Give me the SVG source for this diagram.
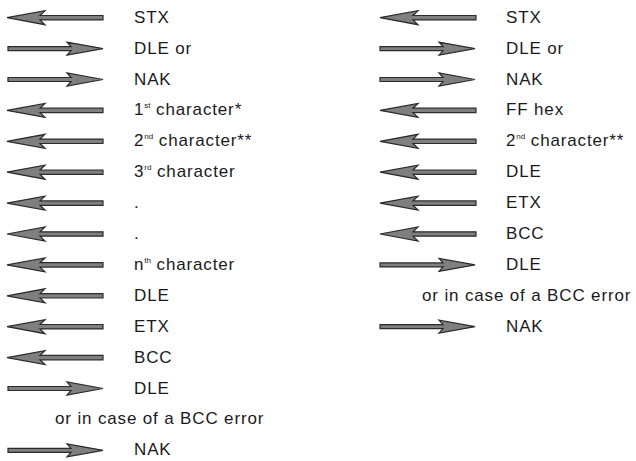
<svg xmlns="http://www.w3.org/2000/svg" xmlns:xlink="http://www.w3.org/1999/xlink" width="636" height="461" viewBox="0 0 636 461">
<style>
text{font-family:"Liberation Sans",Arial,sans-serif;font-size:17px;fill:#1a1a1a;letter-spacing:0.85px}
.sup{font-size:8px;letter-spacing:0}
.arr{fill:#7f7f7f;stroke:#2b2b2b;stroke-width:1.2;stroke-linejoin:miter}
</style>
<defs>
<path id="al" class="arr" d="M0,0 L38,-7 L33,-2.2 L96,-2.2 L96,2.2 L33,2.2 L38,7 Z"/>
<path id="ar" class="arr" d="M0,0 L-36,-6.5 L-32,-2 L-95,-2 L-95,2 L-32,2 L-36,6.5 Z"/>
</defs>
<rect width="636" height="461" fill="#fff"/>
<g id="connectors">
<use xlink:href="#al" x="7" y="17.7"/>
<use xlink:href="#ar" x="103" y="48.6"/>
<use xlink:href="#ar" x="103" y="79.5"/>
<use xlink:href="#al" x="7" y="110.4"/>
<use xlink:href="#al" x="7" y="141.3"/>
<use xlink:href="#al" x="7" y="172.2"/>
<use xlink:href="#al" x="7" y="203.1"/>
<use xlink:href="#al" x="7" y="234"/>
<use xlink:href="#al" x="7" y="264.9"/>
<use xlink:href="#al" x="7" y="295.8"/>
<use xlink:href="#al" x="7" y="326.7"/>
<use xlink:href="#al" x="7" y="357.6"/>
<use xlink:href="#ar" x="103" y="388.5"/>
<use xlink:href="#ar" x="103" y="450.3"/>
<use xlink:href="#al" x="380" y="17.7"/>
<use xlink:href="#ar" x="475" y="48.6"/>
<use xlink:href="#ar" x="475" y="79.5"/>
<use xlink:href="#al" x="380" y="110.4"/>
<use xlink:href="#al" x="380" y="141.3"/>
<use xlink:href="#al" x="380" y="172.2"/>
<use xlink:href="#al" x="380" y="203.1"/>
<use xlink:href="#al" x="380" y="234"/>
<use xlink:href="#ar" x="475" y="264.9"/>
<use xlink:href="#ar" x="475" y="326.7"/>
</g>
<g id="left-labels">
<text x="134" y="22.7">STX</text>
<text x="134" y="53.6">DLE or</text>
<text x="134" y="84.5">NAK</text>
<text x="134" y="115.4">1<tspan class="sup" dy="-7">st</tspan><tspan dy="7"> character*</tspan></text>
<text x="134" y="146.3">2<tspan class="sup" dy="-7">nd</tspan><tspan dy="7"> character**</tspan></text>
<text x="134" y="177.2">3<tspan class="sup" dy="-7">rd</tspan><tspan dy="7"> character</tspan></text>
<text x="134" y="208.1">.</text>
<text x="134" y="239">.</text>
<text x="134" y="269.9">n<tspan class="sup" dy="-7">th</tspan><tspan dy="7"> character</tspan></text>
<text x="134" y="300.8">DLE</text>
<text x="134" y="331.7">ETX</text>
<text x="134" y="362.6">BCC</text>
<text x="134" y="393.5">DLE</text>
<text x="55" y="424.4">or in case of a BCC error</text>
<text x="134" y="455.3">NAK</text>
</g>
<g id="right-labels">
<text x="506" y="22.7">STX</text>
<text x="506" y="53.6">DLE or</text>
<text x="506" y="84.5">NAK</text>
<text x="506" y="115.4">FF hex</text>
<text x="506" y="146.3">2<tspan class="sup" dy="-7">nd</tspan><tspan dy="7"> character**</tspan></text>
<text x="506" y="177.2">DLE</text>
<text x="506" y="208.1">ETX</text>
<text x="506" y="239">BCC</text>
<text x="506" y="269.9">DLE</text>
<text x="422" y="300.8">or in case of a BCC error</text>
<text x="506" y="331.7">NAK</text>
</g>
</svg>
